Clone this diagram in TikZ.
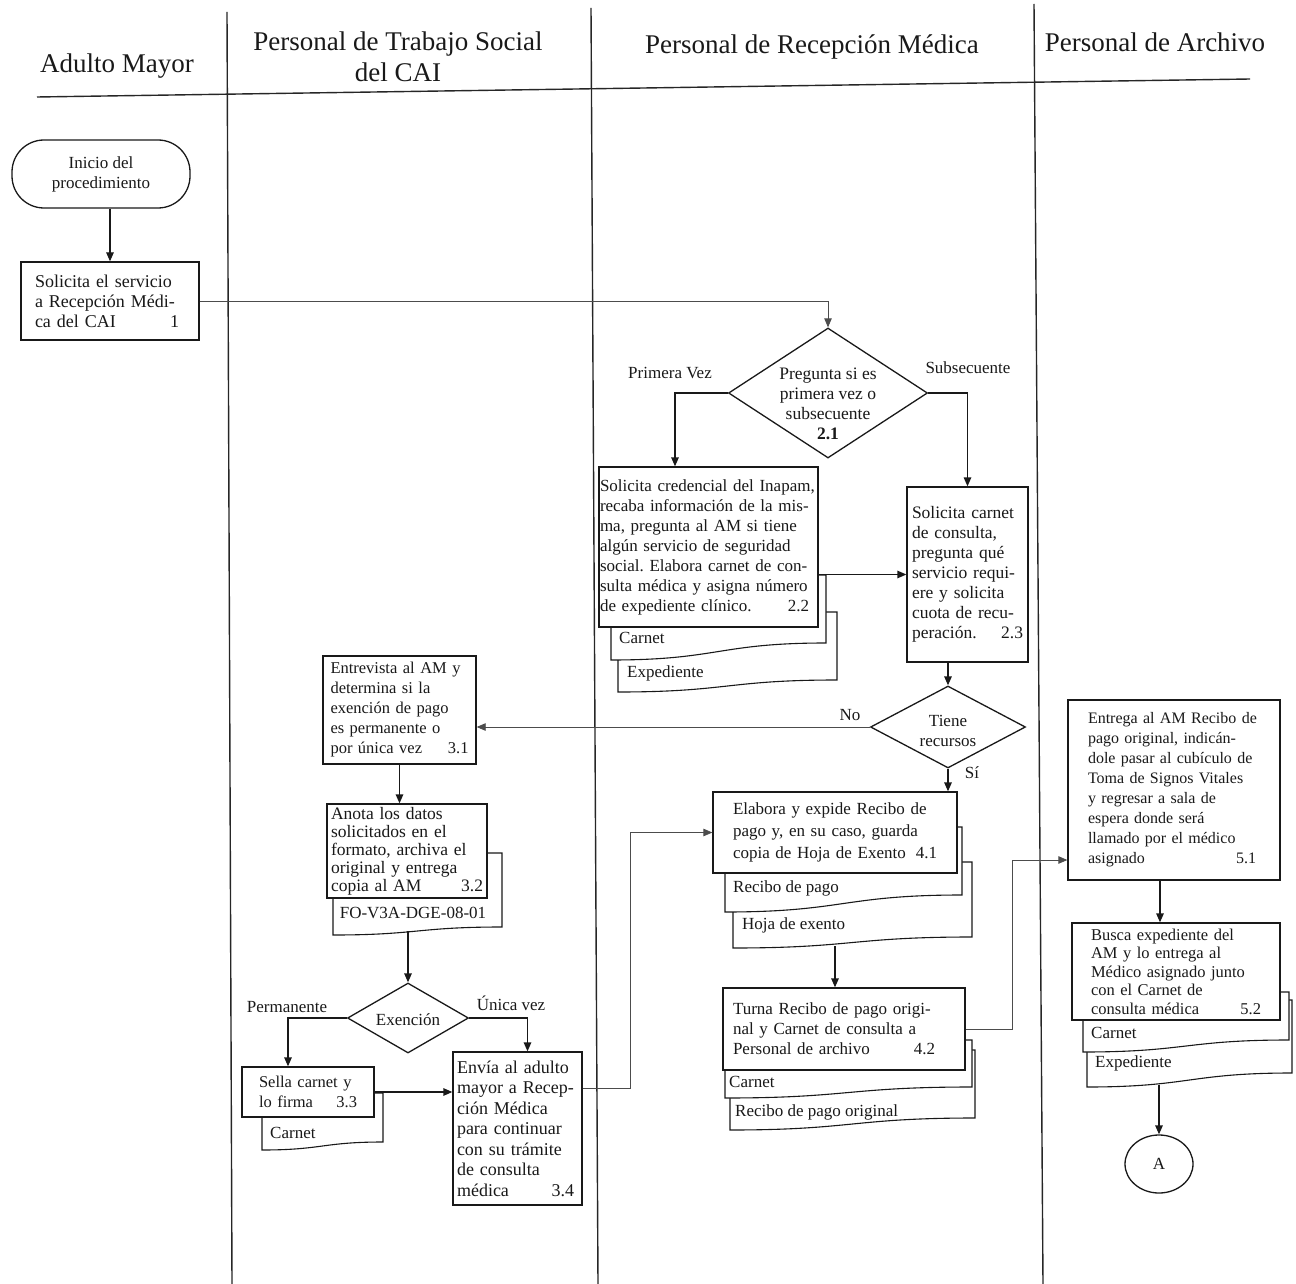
\documentclass[tikz,border=0pt]{standalone}
\usepackage{fontspec}
\setmainfont{Liberation Serif}
\usetikzlibrary{arrows.meta,shapes.geometric}
\frenchspacing

% document symbol: left x, top y, right x, bottom-left y, bottom-right y
\newcommand\docpage[5]{%
  \draw[docline] (#1,#2) -- (#3,#2) -- (#3,#5)
    .. controls ({(#1+#3)/2},#5) and ({(#1+#3)/2},#4) .. (#1,#4) -- cycle;}
\newcommand\fs[2]{\fontsize{#1}{#2}\selectfont}

\begin{document}
\begin{tikzpicture}[x=1pt,y=-1pt,
  every node/.style={font=\fs{17}{20}, inner sep=0pt, text=black!90},
  lane/.style={line width=1.4pt, black!85},
  box/.style={draw=black!90, fill=white, line width=1.3pt, align=left},
  docline/.style={draw=black!90, fill=white, line width=1.1pt},
  dec/.style={diamond, draw=black!90, fill=white, line width=1.3pt, inner sep=0pt},
  arr/.style={line width=1.3pt, black!90, -{Triangle[length=9pt,width=7.5pt]}},
  thinarr/.style={line width=0.8pt, black!70, -{Triangle[length=9pt,width=7.5pt]}},
  head/.style={font=\fs{27}{31}, align=center},
  tag/.style={anchor=west}
]
\useasboundingbox (0,0) rectangle (1296,1284);

% swimlane headers and separators
\node[head] (hAM) at (117,66) {Adulto Mayor};
\node[head] (hTS) at (398,57) {Personal de Trabajo Social\\del CAI};
\node[head] (hRM) at (812,47) {Personal de Recepción Médica};
\node[head] (hPA) at (1155,42) {Personal de Archivo};
\draw[lane] (37,97) -- (1250,79);
\draw[lane] (227,12) -- (232,1284);
\draw[lane] (591,8) -- (598,1284);
\draw[lane] (1034,4) -- (1043,1284);

% Adulto Mayor
\node[box, rounded corners=32pt, minimum width=178pt, minimum height=68pt, align=center]
  (start) at (101,174) {Inicio del\\procedimiento};
\node[box, minimum width=178pt, minimum height=78pt, text width=150pt, font=\fs{18}{20}] (s1) at (110,301)
  {Solicita el servicio\\a Recepción Médi-\\ca del CAI\hfill 1\hspace*{6pt}};

% Recepción Médica: first decision
\node[dec, minimum width=199pt, minimum height=130pt] (q1) at (828,393) {};
\node[align=center, font=\fs{17.5}{20}] (q1t) at (828,404) {Pregunta si es\\primera vez o\\subsecuente\\\textbf{2.1}};
\node (lPV) at (670,373) {Primera Vez};
\node (lSub) at (968,368) {Subsecuente};

% step 2.2 with its documents
\docpage{618}{612}{837}{692}{680}
\docpage{611}{575}{826}{660}{643}
\node[tag] (c22a) at (619,638) {Carnet};
\node[tag] (c22b) at (627,673) {Expediente};
\node[box, minimum width=219pt, minimum height=160pt, text width=217pt, font=\fs{17}{20}] (s22) at (708.5,547)
  {Solicita credencial del Inapam,\\recaba información de la mis-\\ma, pregunta al AM si tiene\\algún servicio de seguridad\\social. Elabora carnet de con-\\sulta médica y asigna número\\de expediente clínico.\hfill 2.2\hspace*{8pt}};

% step 2.3
\node[box, minimum width=121pt, minimum height=175pt, text width=111pt, font=\fs{17.5}{20}] (s23) at (967.5,574.5)
  {Solicita carnet\\de consulta,\\pregunta qué\\servicio requi-\\ere y solicita\\cuota de recu-\\peración.\hfill 2.3};

% second decision
\node[dec, minimum width=155pt, minimum height=82pt] (q2) at (948,727) {};
\node[align=center] (q2t) at (948,731) {Tiene\\recursos};
\node (lNo) at (850,715) {No};
\node (lSi) at (972,773) {Sí};

% Trabajo Social
\node[box, minimum width=153pt, minimum height=108pt, text width=138pt, font=\fs{16.5}{20}] (s31) at (399.5,710)
  {Entrevista al AM y\\determina si la\\exención de pago\\es permanente o\\por única vez\hfill 3.1};
\docpage{333}{853}{502}{935}{927}
\node (fo) at (413,913) {FO-V3A-DGE-08-01};
\node[box, minimum width=160pt, minimum height=94pt, text width=152pt, font=\fs{17.5}{18}] (s32) at (407,851)
  {Anota los datos\\solicitados en el\\formato, archiva el\\original y entrega\\copia al AM\hfill 3.2};

\node[dec, minimum width=121pt, minimum height=70pt] (q3) at (408,1018) {};
\node (q3t) at (408,1020) {Exención};
\node (lPer) at (287,1007) {Permanente};
\node (lUni) at (511,1003) {Única vez};

\docpage{262}{1093}{383}{1150}{1142}
\node[tag] (c33) at (270,1133) {Carnet};
\node[box, minimum width=132pt, minimum height=50pt, text width=98pt, font=\fs{16.5}{20}] (s33) at (308,1092)
  {Sella carnet y\\lo firma\hfill 3.3};

\node[box, minimum width=129pt, minimum height=153pt, text width=121pt, font=\fs{18}{20.5}] (s34) at (517.5,1128.5)
  {Envía al adulto\\mayor a Recep-\\ción Médica\\para continuar\\con su trámite\\de consulta\\médica\hfill 3.4\hspace*{4pt}};

% Recepción Médica: steps 4.1 and 4.2
\docpage{733}{862}{972}{948}{937}
\docpage{725}{827}{962}{912}{895}
\node[tag] (r41) at (733,888) {Recibo de pago};
\node[tag] (h41) at (742,925) {Hoja de exento};
\node[box, minimum width=244pt, minimum height=81pt, text width=204pt, font=\fs{17}{22}] (s41) at (835,832.5)
  {Elabora y expide Recibo de\\pago y, en su caso, guarda\\copia de Hoja de Exento\hfill 4.1};

\docpage{730}{1050}{975}{1130}{1118}
\docpage{725}{1040}{972}{1098}{1087}
\node[tag] (c42) at (729,1082) {Carnet};
\node[tag] (r42) at (735,1112) {Recibo de pago original};
\node[box, minimum width=242pt, minimum height=82pt, text width=222pt] (s42) at (844,1029)
  {Turna Recibo de pago origi-\\nal y Carnet de consulta a\\Personal de archivo\hfill 4.2\hspace*{20pt}};

% Archivo
\node[box, minimum width=212pt, minimum height=180pt, text width=172pt, font=\fs{16}{20}] (s51) at (1174,790)
  {Entrega al AM Recibo de\\pago original, indicán-\\dole pasar al cubículo de\\Toma de Signos Vitales\\y regresar a sala de\\espera donde será\\llamado por el médico\\asignado\hfill 5.1\hspace*{4pt}};

\docpage{1087}{1000}{1292}{1087}{1073}
\docpage{1083}{992}{1289}{1052}{1040}
\node[tag] (c52) at (1091,1033) {Carnet};
\node[tag] (e52) at (1095,1063) {Expediente};
\node[box, minimum width=208pt, minimum height=97pt, text width=170pt, font=\fs{16.5}{18.5}] (s52) at (1176,971.5)
  {Busca expediente del\\AM y lo entrega al\\Médico asignado junto\\con el Carnet de\\consulta médica\hfill 5.2};

\node[ellipse, draw=black!90, line width=1.3pt, minimum width=68pt, minimum height=58pt] (endA) at (1159,1164) {A};

% connectors
\coordinate (foEnd) at (408,931);
\coordinate (hojaEnd) at (835,946);
\coordinate (expEnd) at (1159,1085);
\draw[arr] (start.south -| s1.north) -- (s1.north);
\draw[thinarr] (s1.east) -| (q1.north);
\draw[arr] (q1.west) -| ([xshift=-33.5pt]s22.north);
\draw[arr] (q1.east) -| (s23.north);
\draw[arr] (s22.east |- s23.west) -- (s23.west);
\draw[arr] (s23.south -| q2.north) -- (q2.north);
\draw[thinarr] (q2.west) -- (q2.west -| s31.east);
\draw[arr] (q2.south) -- (q2.south |- s41.north);
\draw[arr] (s31.south) -- (s31.south |- s32.north);
\draw[arr] (foEnd) -- (q3.north);
\draw[arr] (q3.west) -| ([xshift=-20pt]s33.north);
\draw[arr] (q3.east) -| ([xshift=10pt]s34.north);
\draw[arr] (s33.east) -- (s33.east -| s34.west);
\draw[thinarr] ([yshift=40pt]s34.east) -- ++(48,0) |- (s41.west);
\draw[arr] (hojaEnd) -- (hojaEnd |- s42.north);
\draw[thinarr] (s42.east) -- ++(47,0) |- ([yshift=-70pt]s51.west);
\draw[arr] ([xshift=-14pt]s51.south) -- ([xshift=-14pt]s51.south |- s52.north);
\draw[arr] (expEnd) -- (endA.north);
\end{tikzpicture}
\end{document}
